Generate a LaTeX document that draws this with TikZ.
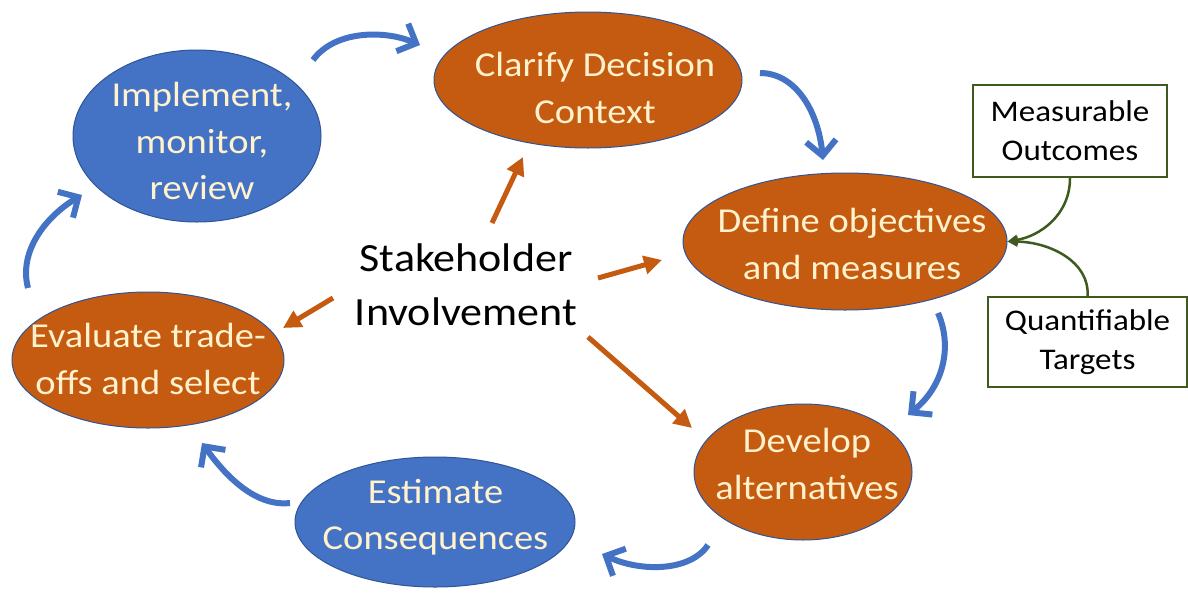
\documentclass[tikz,border=0pt]{standalone}
\usepackage{graphicx}
\usepackage{fontspec}
\setmainfont{Carlito}
\usetikzlibrary{arrows.meta,shapes.geometric}
\definecolor{obl}{HTML}{4472C4}
\definecolor{oor}{HTML}{C55A11}
\definecolor{oedge}{HTML}{2F5597}
\definecolor{ocream}{HTML}{FFF2CC}
\definecolor{ogreen}{HTML}{3E5A1E}
\newcommand\sx[1]{\scalebox{1.1}[1]{#1}}
\tikzset{
  ell/.style={ellipse, draw=oedge, line width=1pt, inner sep=0pt},
  blueell/.style={ell, fill=obl},
  orell/.style={ell, fill=oor},
  etext/.style={text=ocream, align=center, inner sep=0pt, font=\fontsize{35}{46.5}\selectfont},
  tbox/.style={draw=ogreen, line width=2pt, fill=white, align=center, inner sep=0pt,
    font=\fontsize{30}{39}\selectfont},
  cyc/.style={draw=obl, line width=6pt, -{Straight Barb[length=15pt,width=30pt]}},
  rad/.style={draw=oor, line width=5pt, -{Triangle[length=18pt,width=18pt]}},
  grn/.style={draw=ogreen, line width=2.5pt, -{Triangle[length=10pt,width=10pt]}},
}
\begin{document}
\begin{tikzpicture}[x=1pt,y=-1pt]
\useasboundingbox (0,0) rectangle (1188,592);
\fill[white] (0,0) rectangle (1188,592);
% ellipses
\node[orell, minimum width=308pt, minimum height=136pt] (clar) at (588,80) {};
\node[blueell, minimum width=248pt, minimum height=172pt] (impl) at (197,136) {};
\node[orell, minimum width=324pt, minimum height=137pt] (def) at (845,241.5) {};
\node[orell, minimum width=218pt, minimum height=136pt] (dev) at (803,472) {};
\node[blueell, minimum width=280pt, minimum height=130pt] (est) at (435,522) {};
\node[orell, minimum width=272pt, minimum height=136pt] (eval) at (148,360) {};
% ellipse texts
\node[etext] (clart) at (595,88) {\sx{Clarify Decision}\\\sx{Context}};
\node[etext] (implt) at (202,141) {\sx{Implement,}\\\sx{monitor,}\\\sx{review}};
\node[etext] (deft) at (852,244) {\sx{Define objectives}\\\sx{and measures}};
\node[etext] (devt) at (807,464) {\sx{Develop}\\\sx{alternatives}};
\node[etext] (estt) at (435.5,517) {\sx{Estimate}\\\sx{Consequences}};
\node[etext] (evalt) at (148,359) {\sx{Evaluate trade-}\\\sx{offs and select}};
% boxes
\node[tbox, minimum width=194pt, minimum height=92pt] (mo) at (1070,131) {\sx{Measurable}\\\sx{Outcomes}};
\node[tbox, minimum width=199pt, minimum height=90pt] (qt) at (1087.5,342) {\sx{Quantifiable}\\\sx{Targets}};
% centre text
\node[align=center, inner sep=0pt, font=\fontsize{40}{54}\selectfont] (stake) at (466,285) {\sx{Stakeholder}\\\sx{Involvement}};
% green
\draw[grn] (mo.south) .. controls (1070,215) and (1040,236) .. (def.east);
\draw[grn] (qt.north) .. controls (1090,262) and (1050,242) .. (def.east);
% radial orange arrows
\coordinate (r1s) at (492,223); \coordinate (r1e) at (523,157);
\coordinate (r2s) at (598,278); \coordinate (r2e) at (662,260);
\coordinate (r3s) at (333,298); \coordinate (r3e) at (283,328);
\coordinate (r4s) at (588,337); \coordinate (r4e) at (692,428);
\draw[rad] (r1s) -- (r1e);
\draw[rad] (r2s) -- (r2e);
\draw[rad] (r3s) -- (r3e);
\draw[rad] (r4s) -- (r4e);
% cycle arrows
\coordinate (c1s) at (313,60); \coordinate (c1e) at (420,45);
\coordinate (c2s) at (760,73); \coordinate (c2e) at (823,160);
\coordinate (c3s) at (938,313); \coordinate (c3e) at (908,415);
\coordinate (c4s) at (708,545); \coordinate (c4e) at (602,554);
\coordinate (c5s) at (290,503); \coordinate (c5e) at (202,443);
\coordinate (c6s) at (28,288); \coordinate (c6e) at (82,195);
\draw[cyc] (c1s) .. controls (335,30) and (385,30) .. (c1e);
\draw[cyc] (c2s) .. controls (795,73) and (818,110) .. (c2e);
\draw[cyc] (c3s) .. controls (952,345) and (945,385) .. (c3e);
\draw[cyc] (c4s) .. controls (690,572) and (640,572) .. (c4e);
\draw[cyc] (c5s) .. controls (255,507) and (225,475) .. (c5e);
\draw[cyc] (c6s) .. controls (18,250) and (48,215) .. (c6e);
\end{tikzpicture}
\end{document}
